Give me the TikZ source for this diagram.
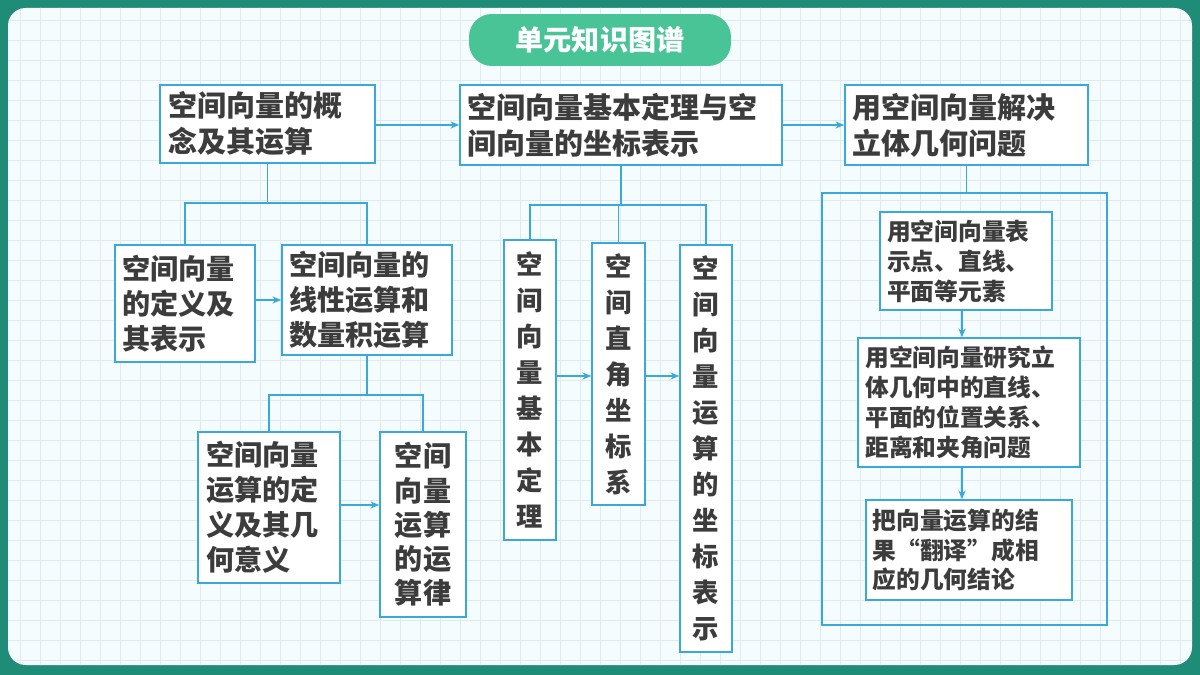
\documentclass[tikz,border=0pt]{standalone}
\usepackage{fontspec}
\setmainfont{Noto Sans CJK SC}
\usetikzlibrary{arrows.meta}
\definecolor{teal1}{RGB}{30,140,118}
\definecolor{pill}{RGB}{72,196,150}
\definecolor{bl}{RGB}{58,168,216}
\definecolor{tx}{RGB}{60,60,60}
\definecolor{gridc}{RGB}{222,234,240}
\begin{document}
\begin{tikzpicture}[x=0.02cm,y=-0.02cm,
 box/.style={draw=bl,line width=0.8pt,fill=white,text=tx,font=\bfseries,inner sep=3pt},
 big/.style={box,font=\fontsize{16.5}{20.5}\selectfont\bfseries,align=left},
 mid/.style={box,font=\fontsize{16}{20}\selectfont\bfseries,align=left},
 vert/.style={box,font=\fontsize{15}{20.5}\selectfont\bfseries,align=center},
 sm/.style={box,font=\fontsize{13.5}{17}\selectfont\bfseries,align=left},
 ln/.style={draw=bl,line width=0.8pt},
 ar/.style={ln,-{Stealth[length=5pt,width=4pt]}}]
\useasboundingbox (0,0) rectangle (1200,675);
\fill[teal1] (0,0) rectangle (1200,675);
\fill[rounded corners=10pt,white!96!cyan] (8,8) rectangle (1192,665);
\begin{scope}
\clip[rounded corners=10pt] (8,8) rectangle (1192,665);
\foreach \i in {0,20,...,1200} \draw[gridc,line width=0.4pt] (\i,0) -- (\i,675);
\foreach \i in {0,20,...,675} \draw[gridc,line width=0.4pt] (0,\i) -- (1200,\i);
\end{scope}
\node[fill=pill,rounded corners=13pt,minimum width=5.24cm,minimum height=1.04cm,text=white,font=\fontsize{16}{18}\selectfont\bfseries] (T) at (600,40) {单元知识图谱};

\node[big,minimum width=4.3cm,minimum height=1.56cm,text width=3.95cm] (A) at (267.5,124) {空间向量的概\\念及其运算};
\node[big,minimum width=6.44cm,minimum height=1.6cm,text width=6.15cm] (B) at (621,125) {空间向量基本定理与空\\间向量的坐标表示};
\node[big,minimum width=4.86cm,minimum height=1.6cm,text width=4.55cm] (C) at (966.5,125) {用空间向量解决\\立体几何问题};
\coordinate (r1) at (0,125);
\draw[ar] (A.east|-r1) -- (B.west|-r1);
\draw[ar] (B.east|-r1) -- (C.west|-r1);

\node[mid,minimum width=2.8cm,minimum height=2.34cm,text width=2.5cm] (D) at (185,303.5) {空间向量\\的定义及\\其表示};
\node[mid,minimum width=3.4cm,minimum height=2.2cm,text width=3.1cm] (E) at (367,300) {空间向量的\\线性运算和\\数量积运算};
\coordinate (a1) at (277,203);
\draw[ln] (A.south) -- (A.south|-a1);
\draw[ln] (D.north) -- (D.north|-a1) -- (E.north|-a1) -- (E.north);
\coordinate (r2) at (0,300);
\draw[ar] (D.east|-r2) -- (E.west|-r2);

\node[mid,minimum width=2.84cm,minimum height=3.02cm,text width=2.5cm] (F) at (269,507.5) {空间向量\\运算的定\\义及其几\\何意义};
\node[vert,minimum width=1.72cm,minimum height=3.7cm,font=\fontsize{16}{19.5}\selectfont\bfseries] (G) at (423,524.5) {空间\\向量\\运算\\的运\\算律};
\coordinate (e1) at (357,395);
\draw[ln] (E.south) -- (E.south|-e1);
\draw[ln] (F.north) -- (F.north|-e1) -- (G.north|-e1) -- (G.north);
\coordinate (r3) at (0,505);
\draw[ar] (F.east|-r3) -- (G.west|-r3);

\node[vert,minimum width=1.04cm,minimum height=6cm] (H) at (530,390) {空\\间\\向\\量\\基\\本\\定\\理};
\node[vert,minimum width=1.06cm,minimum height=5.24cm] (I) at (618.5,374) {空\\间\\直\\角\\坐\\标\\系};
\node[vert,minimum width=1.04cm,minimum height=8.14cm] (J) at (706,448.5) {空\\间\\向\\量\\运\\算\\的\\坐\\标\\表\\示};
\coordinate (b1) at (620,205);
\draw[ln] (B.south) -- (B.south|-b1);
\draw[ln] (H.north) -- (H.north|-b1) -- (J.north|-b1) -- (J.north);
\draw[ln] (I.north) -- (I.north|-b1);
\coordinate (h1) at (0,376);
\draw[ar] (H.east|-h1) -- (I.west|-h1);
\draw[ar] (I.east|-h1) -- (J.west|-h1);

\node[draw=bl,line width=0.8pt,minimum width=5.7cm,minimum height=8.64cm] (K) at (964.5,409) {};
\draw[ln] (C.south) -- (C.south|-K.north);
\node[sm,minimum width=3.44cm,minimum height=1.96cm,text width=3.15cm] (L) at (966,261) {用空间向量表\\示点、直线、\\平面等元素};
\node[sm,minimum width=4.44cm,minimum height=2.58cm,text width=4.15cm] (M) at (969,402.5) {用空间向量研究立\\体几何中的直线、\\平面的位置关系、\\距离和夹角问题};
\node[sm,minimum width=4.12cm,minimum height=2cm,text width=3.85cm] (N) at (969,550) {把向量运算的结\\果“翻译”成相\\应的几何结论};
\coordinate (v1) at (962,0);
\draw[ar] (L.south-|v1) -- (M.north-|v1);
\draw[ar] (M.south-|v1) -- (N.north-|v1);
\end{tikzpicture}
\end{document}
